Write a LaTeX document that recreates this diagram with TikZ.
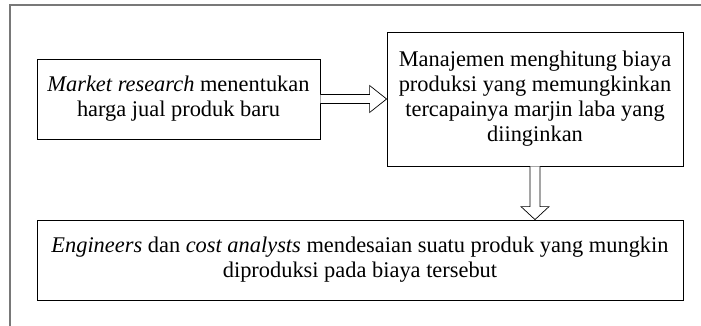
\documentclass[tikz,border=0pt]{standalone}
\usepackage{fontspec}
\setmainfont{Liberation Serif}
\usepackage{xcolor}
\usepackage{tikz}
\usetikzlibrary{calc, positioning}
\definecolor{framegray}{RGB}{120, 120, 120}

\tikzset{
  stepbox/.style={rectangle, draw=black, line width=0.8pt, align=center,
                  font=\fontsize{22.4}{25}\selectfont, inner sep=0pt},
  hollow/.style={draw=black, line width=0.7pt, fill=white}
}

\begin{document}
\begin{tikzpicture}[x=1pt, y=1pt]
  \useasboundingbox (0,0) rectangle (701,-326);
  \draw[framegray, line width=1.4pt] (10,-326) -- (10,-5) -- (701,-5);

  \node[stepbox, minimum width=283pt, minimum height=80pt] (mr) at (178.5,-99) {
    \textit{Market research} menentukan\\
    harga jual produk baru
  };
  \node[stepbox, minimum width=296pt, minimum height=134pt] (mj) at (535,-99) {
    Manajemen menghitung biaya\\
    produksi yang memungkinkan\\
    tercapainya marjin laba yang\\
    diinginkan
  };
  \node[stepbox, minimum width=646pt, minimum height=80pt] (en) at (360,-260) {
    \textit{Engineers} dan \textit{cost analysts} mendesaian suatu produk yang mungkin\\
    diproduksi pada biaya tersebut
  };

  \draw[hollow] ($(mr.east)+(0,4.5)$) -- ($(mj.west)+(-17,4.5)$)
    -- ($(mj.west)+(-17,13.5)$) -- (mj.west) -- ($(mj.west)+(-17,-13.5)$)
    -- ($(mj.west)+(-17,-4.5)$) -- ($(mr.east)+(0,-4.5)$);

  \coordinate (tip) at (mj.south |- en.north);
  \draw[hollow] ($(mj.south)+(-5,0)$) -- ($(tip)+(-5,13)$)
    -- ($(tip)+(-14,13)$) -- (tip) -- ($(tip)+(14,13)$)
    -- ($(tip)+(5,13)$) -- ($(mj.south)+(5,0)$);
\end{tikzpicture}
\end{document}
